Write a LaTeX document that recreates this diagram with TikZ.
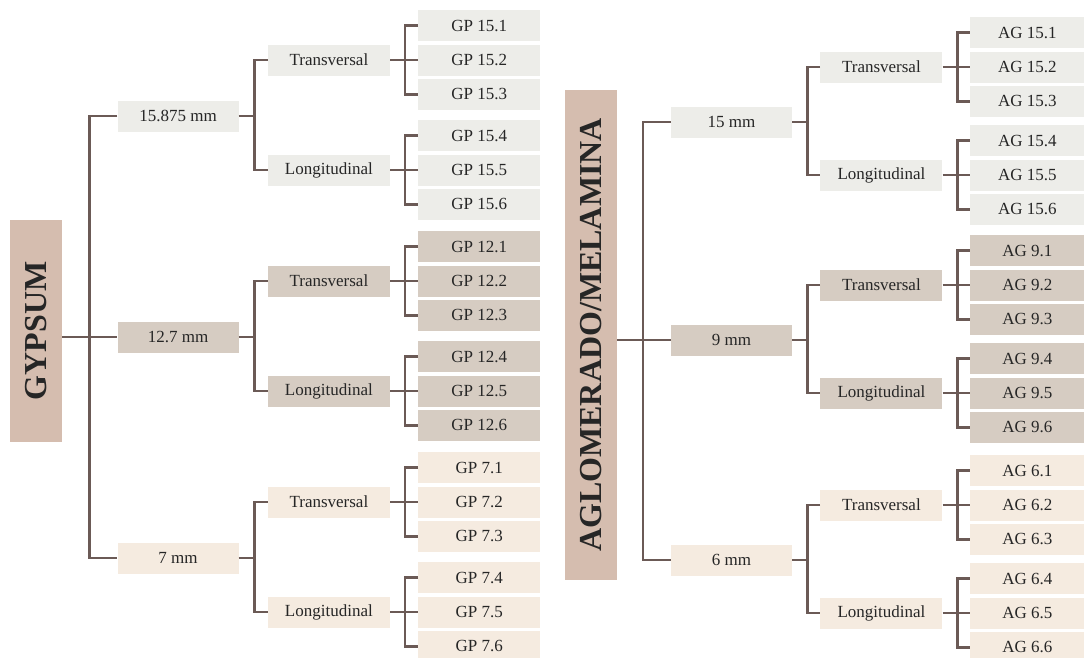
\documentclass[tikz,border=0pt]{standalone}
\usepackage{fontspec}
\setmainfont{Liberation Serif}
\usetikzlibrary{positioning,calc}
\definecolor{rootc}{HTML}{D5BDAF}
\definecolor{grayc}{HTML}{EDEDE9}
\definecolor{taupec}{HTML}{D6CCC2}
\definecolor{creamc}{HTML}{F5EBE0}
\definecolor{linec}{HTML}{6B5A56}
\tikzset{
    every node/.style={font=\fontsize{17}{19}\selectfont, text=black!85, inner sep=0pt},
    rootbox/.style={fill=rootc, rotate=90, minimum height=52pt, font=\fontsize{32}{36}\selectfont\bfseries},
    midbox/.style={fill=#1, minimum width=121pt, minimum height=31pt},
    dirbox/.style={fill=#1, minimum width=122pt, minimum height=31pt, anchor=west},
    leafbox/.style={fill=#1, minimum height=31pt},
    branch/.style={draw=linec, line width=2.6pt},
}
\begin{document}
\begin{tikzpicture}[x=1pt, y=-1pt]
\useasboundingbox (0,0) rectangle (1084,657);
% distances between the levels
\def\gap{28pt}
\def\sep{3pt}

%=========================
% GYPSUM
%=========================
\node[rootbox, minimum width=222pt] (gyp) at (36,331) {GYPSUM};
\node[midbox=grayc] (gp15) at (178,116) {15.875 mm};
\node[midbox=taupec] (gp12) at (178,337) {12.7 mm};
\node[midbox=creamc] (gp7) at (178,558) {7 mm};

\draw[branch] (gyp.south |- gp12) -- (gp12.west);
\draw[branch] (gp15.west) -- ++(-28,0) |- (gp7.west);

\foreach \m/\c/\n in {gp15/grayc/15, gp12/taupec/12, gp7/creamc/7}{
  \node[dirbox=\c] (\m-t) at ($(\m.east)+(29,-56)$) {Transversal};
  \node[dirbox=\c] (\m-l) at ($(\m.east)+(29,54)$) {Longitudinal};
  \draw[branch] (\m.east) -- ++(16,0);
  \draw[branch] (\m-t.west) -| ($(\m.east)+(16,0)$) |- (\m-l.west);
  \foreach \d/\k in {t/1, l/4}{
    \pgfmathtruncatemacro{\ka}{\k+1} % middle leaf
    \pgfmathtruncatemacro{\kb}{\k+2} % lower leaf
    \node[leafbox=\c, minimum width=122pt, right=\gap of \m-\d] (\m-\d-2) {GP \n.\ka};
    \node[leafbox=\c, minimum width=122pt, above=\sep of \m-\d-2] (\m-\d-1) {GP \n.\k};
    \node[leafbox=\c, minimum width=122pt, below=\sep of \m-\d-2] (\m-\d-3) {GP \n.\kb};
    \draw[branch] (\m-\d.east) -- (\m-\d-2.west);
    \draw[branch] (\m-\d-1.west) -- ++(-13,0) |- (\m-\d-3.west);
  }
}

%=========================
% AGLOMERADO/MELAMINA
%=========================
\node[rootbox, minimum width=490pt] (agl) at (591,335) {AGLOMERADO/MELAMINA};
\node[midbox=grayc] (ag15) at (731.5,122) {15 mm};
\node[midbox=taupec] (ag9) at (731.5,340) {9 mm};
\node[midbox=creamc] (ag6) at (731.5,560) {6 mm};

\draw[branch] (agl.south |- ag9) -- (ag9.west);
\draw[branch] (ag15.west) -- ++(-28,0) |- (ag6.west);

\foreach \m/\c/\n in {ag15/grayc/15, ag9/taupec/9, ag6/creamc/6}{
  \node[dirbox=\c] (\m-t) at ($(\m.east)+(28,-55)$) {Transversal};
  \node[dirbox=\c] (\m-l) at ($(\m.east)+(28,53)$) {Longitudinal};
  \draw[branch] (\m.east) -- ++(15,0);
  \draw[branch] (\m-t.west) -| ($(\m.east)+(15,0)$) |- (\m-l.west);
  \foreach \d/\k in {t/1, l/4}{
    \pgfmathtruncatemacro{\ka}{\k+1} % middle leaf
    \pgfmathtruncatemacro{\kb}{\k+2} % lower leaf
    \node[leafbox=\c, minimum width=115pt, right=27pt of \m-\d] (\m-\d-2) {AG \n.\ka};
    \node[leafbox=\c, minimum width=115pt, above=\sep of \m-\d-2] (\m-\d-1) {AG \n.\k};
    \node[leafbox=\c, minimum width=115pt, below=\sep of \m-\d-2] (\m-\d-3) {AG \n.\kb};
    \draw[branch] (\m-\d.east) -- (\m-\d-2.west);
    \draw[branch] (\m-\d-1.west) -- ++(-12,0) |- (\m-\d-3.west);
  }
}
\end{tikzpicture}
\end{document}
